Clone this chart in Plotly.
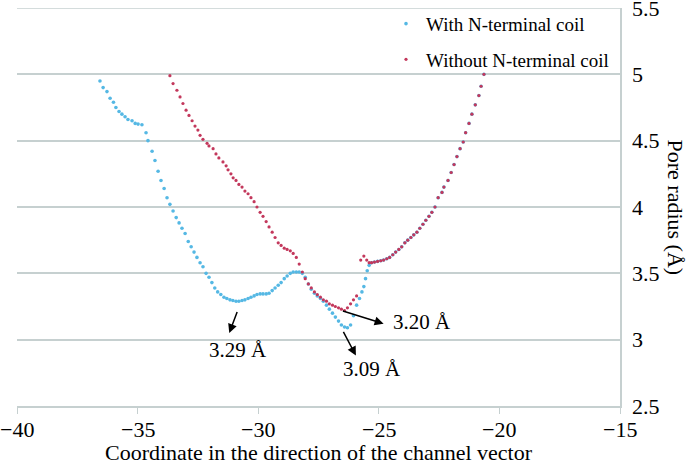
import plotly.graph_objects as go

# ---- data ----
with_x = [-36.56, -36.43, -36.27, -36.14, -36.00, -35.90, -35.77, -35.65, -35.52, -35.40,
          -35.23, -35.10, -34.98, -34.82, -34.65, -34.57, -34.40, -34.28, -34.15, -34.03,
          -33.90, -33.78, -33.66, -33.53, -33.40, -33.28, -33.16, -33.03, -32.90, -32.78,
          -32.66, -32.54, -32.41, -32.29, -32.16, -32.04, -31.92, -31.80, -31.68, -31.55,
          -31.42, -31.30, -31.17, -31.05, -30.92, -30.80, -30.67, -30.55, -30.42, -30.30,
          -30.17, -30.05, -29.92, -29.80, -29.67, -29.55, -29.42, -29.30, -29.17, -29.05,
          -28.92, -28.80, -28.67, -28.55, -28.42, -28.30, -28.17, -28.05, -27.92, -27.80,
          -27.67, -27.55, -27.42, -27.30, -27.17, -27.05, -26.92, -26.80, -26.67, -26.55,
          -26.42, -26.30, -26.17, -26.05, -25.92, -25.80, -25.70, -25.62, -25.55, -25.48,
          -25.40]
with_y = [4.95, 4.90, 4.87, 4.82, 4.79, 4.75, 4.72, 4.70, 4.68, 4.66,
          4.65, 4.63, 4.625, 4.62, 4.56, 4.50, 4.42, 4.35, 4.27, 4.20,
          4.14, 4.07, 4.02, 3.97, 3.92, 3.88, 3.84, 3.80, 3.74, 3.70,
          3.66, 3.62, 3.58, 3.55, 3.50, 3.47, 3.43, 3.39, 3.36, 3.34,
          3.32, 3.31, 3.30, 3.295, 3.29, 3.29, 3.295, 3.30, 3.31, 3.32,
          3.33, 3.34, 3.345, 3.345, 3.345, 3.35, 3.37, 3.39, 3.41, 3.43,
          3.46, 3.48, 3.50, 3.51, 3.51, 3.51, 3.50, 3.47, 3.42, 3.38,
          3.35, 3.33, 3.31, 3.29, 3.26, 3.23, 3.20, 3.17, 3.14, 3.11,
          3.095, 3.09, 3.11, 3.18, 3.26, 3.31, 3.36, 3.40, 3.46, 3.52,
          3.56]

without_x = [-33.66, -33.53, -33.37, -33.24, -33.12, -32.99, -32.87, -32.74, -32.62, -32.50,
             -32.41, -32.29, -32.12, -32.04, -31.87, -31.75, -31.63, -31.46, -31.33, -31.25,
             -31.13, -31.04, -30.92, -30.80, -30.67, -30.55, -30.42, -30.30, -30.17, -30.05,
             -29.92, -29.80, -29.67, -29.55, -29.42, -29.30, -29.17, -29.05, -28.92, -28.80,
             -28.67, -28.55, -28.42, -28.30, -28.17, -28.05, -27.92, -27.80, -27.67, -27.55,
             -27.42, -27.30, -27.17, -27.05, -26.92, -26.80, -26.67, -26.55, -26.42, -26.30,
             -26.17, -26.05, -25.92, -25.75, -25.62, -25.50, -25.40]
without_y = [4.99, 4.93, 4.88, 4.83, 4.78, 4.73, 4.69, 4.65, 4.61, 4.58,
             4.54, 4.51, 4.48, 4.46, 4.44, 4.40, 4.37, 4.34, 4.31, 4.28,
             4.25, 4.22, 4.20, 4.17, 4.15, 4.12, 4.10, 4.07, 4.04, 4.00,
             3.96, 3.93, 3.89, 3.85, 3.81, 3.77, 3.73, 3.71, 3.69, 3.68,
             3.67, 3.65, 3.62, 3.57, 3.51, 3.46, 3.42, 3.39, 3.36, 3.34,
             3.32, 3.30, 3.29, 3.27, 3.26, 3.25, 3.24, 3.23, 3.22, 3.24,
             3.27, 3.30, 3.33, 3.60, 3.63, 3.60, 3.58]

# shared right-hand branch (both structures coincide)
shared_x = [-25.30, -25.18, -25.05, -24.92, -24.80, -24.67, -24.55, -24.42, -24.30, -24.17,
            -24.05, -23.92, -23.80, -23.67, -23.55, -23.42, -23.30, -23.17, -23.05, -22.92,
            -22.80, -22.67, -22.54, -22.38, -22.30, -22.13, -22.00, -21.88, -21.76, -21.63,
            -21.50, -21.40, -21.26, -21.14, -21.00, -20.85, -20.76, -20.64]
shared_y = [3.58, 3.585, 3.59, 3.595, 3.60, 3.61, 3.62, 3.64, 3.66, 3.68,
            3.70, 3.73, 3.75, 3.77, 3.79, 3.81, 3.84, 3.87, 3.90, 3.93,
            3.96, 4.00, 4.07, 4.11, 4.15, 4.20, 4.26, 4.32, 4.38, 4.44,
            4.49, 4.56, 4.63, 4.70, 4.77, 4.84, 4.91, 5.00]

x_ticks = [-40, -35, -30, -25, -20, -15]
x_tick_labels = ["−40", "−35", "−30", "−25", "−20", "−15"]
y_ticks = [2.5, 3, 3.5, 4, 4.5, 5, 5.5]
y_tick_labels = ["2.5", "3", "3.5", "4", "4.5", "5", "5.5"]

BLUE = "#55b8e4"
RED = "#c3385c"
GRID = "#c6d0d0"
FONT = "Liberation Serif, Times New Roman, serif"

fig = go.Figure()
fig.add_trace(go.Scatter(x=with_x + shared_x, y=with_y + shared_y, mode="markers",
                         name="With N-terminal coil", legendgroup="a",
                         marker=dict(color=BLUE, size=3.6)))
fig.add_trace(go.Scatter(x=without_x + shared_x, y=without_y + shared_y, mode="markers",
                         name="Without N-terminal coil", legendgroup="b",
                         marker=dict(color=RED, size=3.2)))

# top gridline at the range edge
fig.add_shape(type="line", xref="paper", yref="y", x0=0, x1=1, y0=y_ticks[-1], y1=y_ticks[-1],
              line=dict(color=GRID, width=1.5), layer="below")

tick_font = dict(family=FONT, size=22, color="black")
for v, t in zip(x_ticks, x_tick_labels):
    fig.add_annotation(x=v, y=0, xref="x", yref="paper", text=t, showarrow=False,
                       xanchor="center", yanchor="top", yshift=-9, font=tick_font)
for v, t in zip(y_ticks, y_tick_labels):
    fig.add_annotation(x=1, y=v, xref="paper", yref="y", text=t, showarrow=False,
                       xanchor="left", yanchor="middle", xshift=10, font=tick_font)

arrow = dict(showarrow=True, arrowhead=2, arrowsize=1.2, arrowwidth=1.5,
             arrowcolor="black", xref="x", yref="y", axref="x", ayref="y", text="")
fig.add_annotation(x=-31.2, y=3.05, ax=-30.85, ay=3.22, **arrow)
fig.add_annotation(x=-24.8, y=3.12, ax=-26.55, ay=3.22, **arrow)
fig.add_annotation(x=-25.95, y=2.88, ax=-26.5, ay=3.07, **arrow)

lab = dict(showarrow=False, xref="x", yref="y", font=dict(family=FONT, size=21, color="black"))
fig.add_annotation(x=-30.85, y=2.92, text="3.29 Å", **lab)
fig.add_annotation(x=-23.2, y=3.13, text="3.20 Å", **lab)
fig.add_annotation(x=-25.3, y=2.78, text="3.09 Å", **lab)

fig.add_annotation(x=(690 - 17) / 603, y=0.5, xref="paper", yref="paper",
                   text="Pore radius (Å)", textangle=90, showarrow=False,
                   font=dict(family=FONT, size=22, color="black"))
fig.add_annotation(x=0.5, y=-(453 - 406) / 398, xref="paper", yref="paper",
                   yanchor="middle", text="Coordinate in the direction of the channel vector",
                   showarrow=False, font=dict(family=FONT, size=22, color="black"))

fig.update_layout(
    width=692, height=466,
    margin=dict(l=17, r=72, t=8, b=60, autoexpand=False),
    paper_bgcolor="white", plot_bgcolor="white",
    font=dict(family=FONT, color="black", size=22),
    showlegend=True,
    legend=dict(x=(386 - 17) / 603, y=1.008, xanchor="left", yanchor="top",
                bgcolor="rgba(0,0,0,0)", traceorder="grouped", tracegroupgap=8,
                font=dict(family=FONT, size=19, color="black")),
    xaxis=dict(range=[-40, -15], tickvals=x_ticks, showticklabels=False,
               showgrid=False, zeroline=False,
               showline=True, linecolor=GRID, linewidth=1.5, automargin=False,
               ticks="outside", ticklen=6, tickcolor=GRID, tickwidth=1.2),
    yaxis=dict(range=[2.5, 5.5], tickvals=y_ticks, showticklabels=False, side="right",
               showgrid=True, gridcolor=GRID, gridwidth=1.5, zeroline=False,
               automargin=False, showline=True, linecolor=GRID, linewidth=1.5, ticks=""),
)

fig.write_html("out.html", config={"displayModeBar": False},
               post_script="document.body.style.margin='0';document.body.style.padding='0';")
